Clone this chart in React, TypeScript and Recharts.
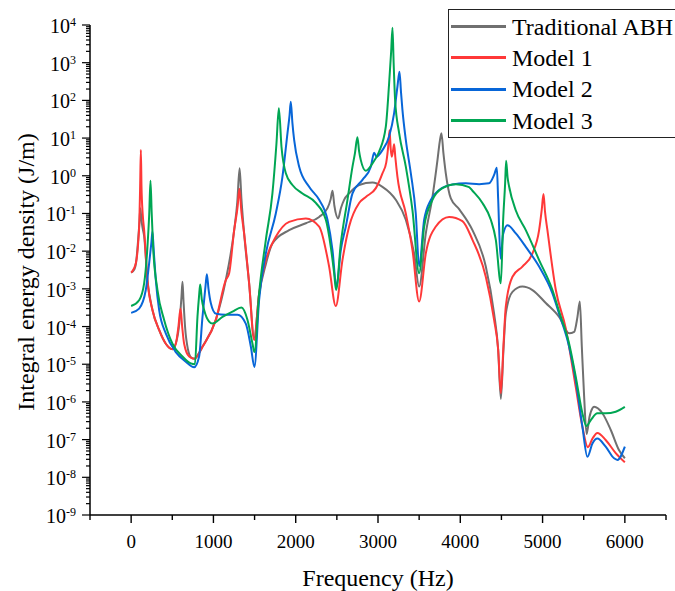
import React from 'react';
import { LineChart, Line, XAxis, YAxis, Legend, Label } from 'recharts';

/* ------------------------------------------------------------------ */
/*  Data: [frequency (Hz), integral energy density (J/m)]              */
/* ------------------------------------------------------------------ */

const abhPoints: [number, number][] = [
  [0, 2.7e-3], [40, 3.3e-3], [60, 5.0e-3], [85, 2.0e-2], [100, 5.6e-2], [112, 0.138], [124, 7.1e-2],
  [140, 4.0e-2], [158, 2.5e-2], [198, 1.7e-3], [259, 2.75e-4], [340, 8.1e-5], [421, 3.5e-5], [502, 2.5e-5],
  [560, 5.0e-5], [595, 2.0e-4], [612, 6.3e-4], [624, 1.55e-3], [636, 5.0e-4], [655, 1.0e-4], [690, 2.5e-5],
  [730, 1.5e-5], [770, 1.4e-5], [820, 1.9e-5], [867, 2.9e-5], [1029, 1.5e-4], [1150, 1.7e-3], [1252, 3.6e-2],
  [1290, 0.2], [1318, 1.58], [1340, 0.25], [1373, 2.95e-2], [1434, 1.4e-3], [1495, 5.0e-5], [1555, 7.1e-4],
  [1637, 4.5e-3], [1717, 1.6e-2], [1920, 3.6e-2], [2123, 5.5e-2], [2285, 8.1e-2], [2386, 0.138], [2425, 0.24],
  [2447, 0.4], [2470, 0.16], [2516, 7.4e-2], [2550, 0.14], [2588, 0.23], [2649, 0.34], [2771, 0.57],
  [2933, 0.66], [3054, 0.51], [3216, 0.23], [3338, 6.8e-2], [3439, 8.7e-3], [3500, 1.15e-3], [3581, 2.95e-2],
  [3662, 0.275], [3723, 2.63], [3750, 7.9], [3771, 13.5], [3795, 4.0], [3824, 1.16], [3885, 0.25], [3986, 0.13],
  [4148, 3.6e-2], [4310, 3.9e-3], [4411, 2.2e-4], [4460, 2.5e-5], [4493, 1.2e-6], [4525, 2.5e-5], [4553, 2.2e-4],
  [4634, 8.3e-4], [4755, 1.15e-3], [4877, 9.3e-4], [5039, 4.2e-4], [5201, 1.8e-4], [5323, 6.6e-5], [5384, 7.2e-5],
  [5424, 1.8e-4], [5453, 4.6e-4], [5477, 2.9e-5], [5505, 1.4e-6], [5535, 1.4e-7], [5570, 4.0e-7], [5606, 6.8e-7],
  [5626, 7.4e-7], [5727, 5.0e-7], [5829, 1.8e-7], [5930, 5.2e-8], [6000, 3.2e-8],
];

const model1Points: [number, number][] = [
  [0, 2.7e-3], [57, 4.8e-3], [85, 1.6e-2], [100, 6.3e-2], [110, 0.63], [118, 4.8], [126, 0.5], [140, 0.1],
  [158, 3.6e-2], [198, 1.7e-3], [259, 2.75e-4], [340, 8.1e-5], [421, 3.5e-5], [502, 2.5e-5], [543, 3.5e-5],
  [575, 1.0e-4], [600, 3.0e-4], [620, 1.0e-4], [644, 3.5e-5], [705, 1.6e-5], [766, 1.4e-5], [867, 2.9e-5],
  [1029, 1.5e-4], [1150, 1.7e-3], [1191, 2.6e-3], [1252, 3.6e-2], [1295, 0.16], [1315, 0.45], [1340, 0.11],
  [1373, 2.95e-2], [1434, 1.4e-3], [1495, 4.4e-5], [1555, 7.6e-4], [1637, 5.8e-3], [1758, 2.4e-2], [1920, 6.0e-2],
  [2123, 7.4e-2], [2285, 4.5e-2], [2406, 3.9e-3], [2487, 3.5e-4], [2568, 5.8e-3], [2649, 4.5e-2], [2771, 0.19],
  [2852, 0.275], [2974, 0.47], [3054, 1.16], [3100, 2.24], [3125, 6.3], [3140, 16.2], [3155, 5.0], [3168, 3.2],
  [3185, 5.0], [3196, 6.9], [3210, 3.2], [3236, 0.95], [3338, 0.1], [3419, 1.07e-2], [3500, 4.6e-4],
  [3581, 8.7e-3], [3703, 4.5e-2], [3864, 8.1e-2], [4026, 6.3e-2], [4148, 2.0e-2], [4310, 2.1e-3], [4411, 1.5e-4],
  [4460, 2.5e-5], [4493, 1.7e-6], [4525, 3.2e-5], [4553, 3.4e-4], [4634, 2.1e-3], [4755, 3.9e-3], [4877, 8.7e-3],
  [4958, 3.6e-2], [4990, 0.126], [5011, 0.33], [5030, 0.11], [5059, 3.6e-2], [5161, 9.3e-4], [5282, 8.9e-5],
  [5403, 2.5e-6], [5484, 2.2e-7], [5550, 6.3e-8], [5610, 1.1e-7], [5666, 1.5e-7], [5767, 9.8e-8], [5889, 4.4e-8],
  [6000, 2.5e-8],
];

const model2Points: [number, number][] = [
  [0, 2.3e-4], [97, 3.0e-4], [178, 9.3e-4], [219, 4.8e-3], [245, 1.6e-2], [259, 3.3e-2], [275, 1.0e-2],
  [300, 1.7e-3], [340, 2.75e-4], [421, 6.6e-5], [543, 2.1e-5], [664, 1.17e-5], [766, 8.3e-6], [826, 1.6e-5],
  [867, 1.8e-4], [905, 1.26e-3], [920, 2.45e-3], [940, 1.0e-3], [968, 4.2e-4], [1029, 2.2e-4], [1150, 2.05e-4],
  [1292, 2.05e-4], [1393, 1.2e-4], [1455, 2.9e-5], [1498, 8.5e-6], [1555, 5.0e-4], [1637, 8.7e-3], [1758, 0.1],
  [1839, 0.95], [1900, 13.5], [1925, 40], [1940, 92], [1960, 25], [1981, 8.9], [2042, 1.74], [2163, 0.51],
  [2285, 0.23], [2386, 6.8e-2], [2447, 1.07e-2], [2495, 1.1e-3], [2548, 1.07e-2], [2609, 4.5e-2], [2690, 0.34],
  [2811, 0.78], [2913, 1.74], [2953, 4.1], [2981, 3.2], [3054, 4.8], [3135, 11], [3196, 46], [3236, 230],
  [3261, 575], [3280, 160], [3297, 56], [3338, 8.9], [3399, 1.16], [3459, 0.1], [3500, 4.0e-3], [3561, 6.8e-2],
  [3642, 0.23], [3743, 0.42], [3905, 0.59], [4067, 0.63], [4229, 0.6], [4350, 0.63], [4411, 1.05], [4444, 1.62],
  [4460, 0.25], [4490, 6.3e-3], [4520, 2.8e-2], [4574, 4.9e-2], [4675, 2.95e-2], [4796, 1.3e-2], [4958, 3.9e-3],
  [5120, 7.6e-4], [5201, 2.2e-4], [5323, 2.9e-5], [5403, 3.8e-6], [5484, 2.2e-7], [5545, 3.5e-8], [5606, 7.9e-8],
  [5666, 1.07e-7], [5767, 6.5e-8], [5869, 3.2e-8], [5910, 2.9e-8], [6000, 6.5e-8],
];

const model3Points: [number, number][] = [
  [0, 3.5e-4], [97, 5.0e-4], [158, 1.4e-3], [198, 1.3e-2], [220, 0.1], [235, 0.74], [250, 0.1], [267, 1.3e-2],
  [320, 9.3e-4], [401, 1.5e-4], [502, 3.5e-5], [624, 1.6e-5], [725, 1.05e-5], [775, 1.0e-5], [806, 1.8e-4],
  [825, 6.3e-4], [839, 1.3e-3], [860, 5.0e-4], [887, 2.75e-4], [948, 1.35e-4], [988, 1.2e-4], [1110, 1.8e-4],
  [1231, 2.5e-4], [1340, 3.2e-4], [1414, 1.5e-4], [1475, 3.5e-5], [1498, 2.1e-5], [1555, 7.6e-4], [1637, 2.0e-2],
  [1717, 0.34], [1766, 7.2], [1795, 62], [1827, 5.9], [1880, 1.16], [1960, 0.57], [2082, 0.34], [2244, 0.19],
  [2366, 6.8e-2], [2426, 1.3e-2], [2467, 2.6e-3], [2490, 9.3e-4], [2548, 1.6e-2], [2629, 0.23], [2690, 1.74],
  [2720, 4.0], [2750, 10.5], [2770, 4.5], [2791, 2.6], [2852, 1.36], [2933, 2.14], [3014, 4.4], [3095, 20],
  [3135, 280], [3160, 2000], [3176, 8500], [3190, 1000], [3208, 102], [3257, 13.5], [3338, 1.74], [3419, 0.12],
  [3500, 2.6e-3], [3561, 4.5e-2], [3662, 0.23], [3783, 0.47], [3946, 0.6], [4107, 0.5], [4148, 0.4],
  [4269, 0.19], [4371, 6.8e-2], [4432, 2.0e-2], [4493, 1.4e-3], [4521, 6.8e-2], [4545, 0.63], [4557, 2.5],
  [4575, 0.9], [4594, 0.51], [4675, 0.12], [4796, 3.6e-2], [4958, 5.8e-3], [5120, 9.3e-4], [5201, 2.5e-4],
  [5323, 3.5e-5], [5403, 4.7e-6], [5484, 5.0e-7], [5533, 2.3e-7], [5586, 3.3e-7], [5666, 5.0e-7], [5767, 5.0e-7],
  [5889, 5.5e-7], [6000, 7.4e-7],
];

/* ------------------------------------------------------------------ */
/*  Axis ticks                                                         */
/* ------------------------------------------------------------------ */

const X_TICKS = [-500, 0, 500, 1000, 1500, 2000, 2500, 3000, 3500, 4000, 4500, 5000, 5500, 6000, 6500];
const Y_MAJOR = [1e-9, 1e-8, 1e-7, 1e-6, 1e-5, 1e-4, 1e-3, 1e-2, 1e-1, 1, 1e1, 1e2, 1e3, 1e4];
const Y_TICKS: number[] = [];
Y_MAJOR.forEach((d, i) => {
  Y_TICKS.push(d);
  if (i < Y_MAJOR.length - 1) for (let m = 2; m <= 9; m++) Y_TICKS.push(m * d);
});

const SERIES = [
  { name: 'Traditional ABH', color: '#707070', points: abhPoints },
  { name: 'Model 1', color: '#ff3838', points: model1Points },
  { name: 'Model 2', color: '#0866d8', points: model2Points },
  { name: 'Model 3', color: '#00a653', points: model3Points },
];
const SERIES_ORDER = SERIES.map((s) => s.name);

const FONT = '"Liberation Serif", "DejaVu Serif", "Noto Serif", "Times New Roman", Times, serif';

/* ------------------------------------------------------------------ */
/*  Ticks, titles, legend                                              */
/* ------------------------------------------------------------------ */

function XTick({ x, y, payload }: any) {
  const v = payload.value;
  const major = v % 1000 === 0;
  return (
    <g>
      <line x1={x} x2={x} y1={y} y2={y + (major ? 8 : 5)} stroke="#000" strokeWidth={1.4} />
      {major && (
        <text x={x} y={y + 33} textAnchor="middle" style={{ fontFamily: FONT }} fontSize={19} fill="#000">
          {v}
        </text>
      )}
    </g>
  );
}

function YTick({ x, y, payload }: any) {
  const lg = Math.log10(payload.value);
  const exp = Math.round(lg);
  const major = Math.abs(lg - exp) < 1e-6;
  return (
    <g>
      <line x1={x - (major ? 8 : 4)} x2={x} y1={y} y2={y} stroke="#000" strokeWidth={1.2} />
      {major && (
        <text x={x - 14} y={y + 8} textAnchor="end" style={{ fontFamily: FONT }} fontSize={20} fill="#000">
          10
          <tspan dy={-7} fontSize={12}>
            {exp}
          </tspan>
        </text>
      )}
    </g>
  );
}

function XTitle({ viewBox }: any) {
  const vb = viewBox ?? { x: 90, y: 515, width: 576 };
  return (
    <text
      x={vb.x + vb.width / 2}
      y={vb.y + 71}
      textAnchor="middle"
      style={{ fontFamily: FONT }}
      fontSize={24}
      fill="#000"
    >
      Frequency (Hz)
    </text>
  );
}

function YTitle({ viewBox }: any) {
  const vb = viewBox ?? { x: 0, y: 25, height: 490 };
  const cx = vb.x + 34;
  const cy = vb.y + vb.height / 2 + 2;
  return (
    <text
      x={cx}
      y={cy}
      transform={`rotate(-90, ${cx}, ${cy})`}
      textAnchor="middle"
      style={{ fontFamily: FONT }}
      fontSize={24}
      fill="#000"
    >
      Integral energy density (J/m)
    </text>
  );
}

function BoxLegend({ payload }: any) {
  if (!payload?.length) return null;
  const items = [...payload].sort(
    (a: any, b: any) => SERIES_ORDER.indexOf(a.value) - SERIES_ORDER.indexOf(b.value),
  );
  return (
    <div
      style={{
        width: 240,
        height: 126,
        paddingTop: 1,
        border: '1px solid #222',
        background: '#fff',
      }}
    >
      {items.map((entry: any) => (
        <div key={entry.value} style={{ display: 'flex', alignItems: 'center', height: 31.3 }}>
          <span style={{ width: 55, height: 3, marginLeft: 2, background: entry.color }} />
          <span
            style={{
              marginLeft: 6,
              fontFamily: FONT,
              fontSize: 24,
              color: '#000',
              lineHeight: '24px',
              whiteSpace: 'nowrap',
            }}
          >
            {entry.value}
          </span>
        </div>
      ))}
    </div>
  );
}

/* ------------------------------------------------------------------ */
/*  Chart                                                              */
/* ------------------------------------------------------------------ */

export default function App() {
  return (
    <div
      style={{
        position: 'absolute',
        left: 0,
        top: 0,
        width: 675,
        height: 591,
        overflow: 'hidden',
        background: '#fff',
      }}
    >
      <LineChart width={675} height={591} margin={{ top: 25, right: 9, bottom: 0, left: 0 }}>
        <XAxis
          type="number"
          dataKey="f"
          domain={[-500, 6500]}
          ticks={X_TICKS}
          interval={0}
          height={76}
          tickSize={0}
          tickMargin={0}
          tickLine={false}
          axisLine={{ stroke: '#000', strokeWidth: 1.5 }}
          tick={<XTick />}
          allowDataOverflow
        >
          <Label content={<XTitle />} />
        </XAxis>
        <YAxis
          type="number"
          dataKey="v"
          scale="log"
          domain={[1e-9, 1e4]}
          ticks={Y_TICKS}
          interval={0}
          width={90}
          tickSize={0}
          tickMargin={0}
          tickLine={false}
          axisLine={{ stroke: '#000', strokeWidth: 1.5 }}
          tick={<YTick />}
          allowDataOverflow
        >
          <Label content={<YTitle />} />
        </YAxis>
        <Legend
          layout="vertical"
          align="center"
          verticalAlign="middle"
          content={<BoxLegend />}
          wrapperStyle={{ left: 448, top: 9, width: 245, height: 130 }}
        />
        {SERIES.map((s) => (
          <Line
            key={s.name}
            name={s.name}
            data={s.points.map(([f, v]) => ({ f, v }))}
            dataKey="v"
            type="monotone"
            stroke={s.color}
            strokeWidth={2}
            dot={false}
            activeDot={false}
            isAnimationActive={false}
          />
        ))}
      </LineChart>
    </div>
  );
}
